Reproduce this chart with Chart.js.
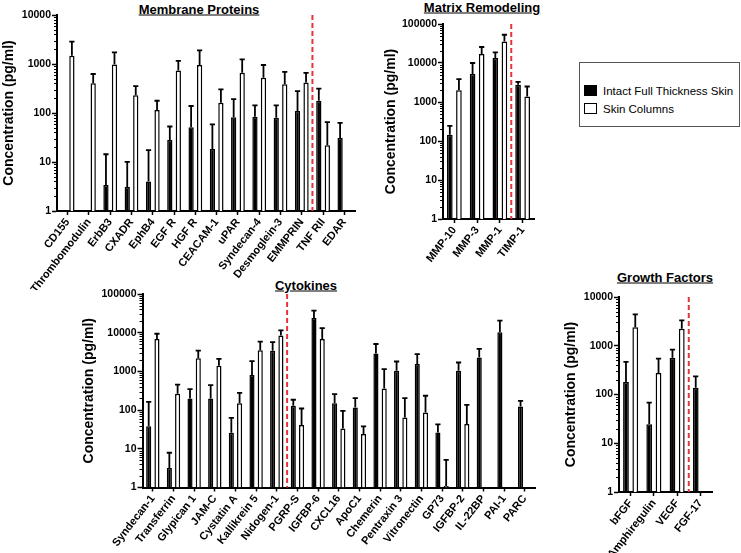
<!DOCTYPE html>
<html>
<head>
<meta charset="utf-8">
<script src="https://cdn.jsdelivr.net/npm/chart.js@4.4.1/dist/chart.umd.min.js"></script>
<style>
  body { margin: 0; background: #fff; width: 741px; height: 553px; overflow: hidden; position: relative; font-family: "Liberation Sans", Arial, sans-serif; }
  canvas { position: absolute; }
  .ttl { position: absolute; transform: translate(-50%, -50%); font-weight: bold; font-size: 13px; text-decoration: underline; white-space: nowrap; }
  #legend { position: absolute; left: 579px; top: 62px; width: 161px; height: 65px; border: 1px solid #555; box-sizing: border-box; font-size: 11.5px; }
  #legend .item { position: absolute; left: 4px; white-space: nowrap; }
  #legend .sw { display: inline-block; width: 13px; height: 11px; border: 1.5px solid #000; box-sizing: border-box; vertical-align: -1px; margin-right: 6px; }
</style>
</head>
<body>
<div class="ttl" style="left:199px; top:9px">Membrane Proteins</div>
<div class="ttl" style="left:482px; top:7px">Matrix Remodeling</div>
<div class="ttl" style="left:306px; top:285px">Cytokines</div>
<div class="ttl" style="left:665px; top:277px">Growth Factors</div>
<div id="legend">
  <div class="item" style="top:22px"><span class="sw" style="background:#000"></span>Intact Full Thickness Skin</div>
  <div class="item" style="top:40px"><span class="sw" style="background:#fff"></span>Skin Columns</div>
</div>

<canvas id="membrane" width="362" height="290" style="left:0px; top:0px"></canvas>
<canvas id="matrix" width="175" height="290" style="left:370px; top:0px"></canvas>
<canvas id="cytokines" width="480" height="273" style="left:60px; top:280px"></canvas>
<canvas id="growth" width="185" height="273" style="left:545px; top:280px"></canvas>

<script>
// Membrane Proteins
const membraneLabels = ['CD155', 'Thrombomodulin', 'ErbB3', 'CXADR', 'EphB4', 'EGF R', 'HGF R', 'CEACAM-1', 'uPAR', 'Syndecan-4', 'Desmoglein-3', 'EMMPRIN', 'TNF RII', 'EDAR'];
const membraneIntact = [null, null, 3.4, 3.1, 4.0, 28, 51, 18.5, 82, 84, 80, 110, 178, 31];
const membraneIntactSD = [null, null, 11, 7, 13.5, 25, 88, 40, 110, 59, 63, 170, 135, 32];
const membraneColumns = [1480, 405, 980, 230, 115, 735, 955, 162, 665, 525, 385, 418, 22, null];
const membraneColumnsSD = [1380, 220, 740, 125, 63, 425, 945, 141, 575, 430, 305, 242, 43, null];

// Matrix Remodeling
const matrixLabels = ['MMP-10', 'MMP-3', 'MMP-1', 'TIMP-1'];
const matrixIntact = [144, 5200, 13400, 2760];
const matrixIntactSD = [101, 4800, 5400, 540];
const matrixColumns = [1990, 17000, 35800, 1390];
const matrixColumnsSD = [1880, 8700, 17200, 1110];

// Cytokines
const cytoLabels = ['Syndecan-1', 'Transferrin', 'Glypican 1', 'JAM-C', 'Cystatin A', 'Kallikrein 5', 'Nidogen-1', 'PGRP-S', 'IGFBP-6', 'CXCL16', 'ApoC1', 'Chemerin', 'Pentraxin 3', 'Vitronectin', 'GP73', 'IGFBP-2', 'IL-22BP', 'PAI-1', 'PARC'];
const cytoIntact = [38.5, 3.2, 200, 200, 26, 804, 3400, 129, 24000, 151, 117, 2900, 1040, 1550, 26.5, 1040, 2300, 10200, 124];
const cytoIntactSD = [125, 4.7, 149, 243, 37, 1046, 2300, 56, 13000, 107, 87, 2200, 760, 1250, 16.5, 660, 1500, 10200, 50];
const cytoColumns = [6900, 265, 2200, 1400, 150, 3500, 8500, 41, 6900, 33.5, 24, 360, 64, 87, 1.1, 43.5, null, null, null];
const cytoColumnsSD = [2500, 190, 1250, 700, 130, 2400, 3000, 69, 6300, 62.5, 14, 790, 140, 148, 4.1, 93.5, null, null, null];

// Growth Factors
const growthLabels = ['bFGF', 'Amphiregulin', 'VEGF', 'FGF-17'];
const growthIntact = [181, 24.5, 570, 138];
const growthIntactSD = [284, 43.5, 260, 97];
const growthColumns = [2400, 275, 2230, null];
const growthColumnsSD = [2000, 270, 1100, null];

// y tick labels
const ticks4 = [1, 10, 100, 1000, 10000];
const ticks5 = [1, 10, 100, 1000, 10000, 100000];

const FONT = '"Liberation Sans", Arial, sans-serif';

// error bars, upward only
const errorBars = {
  id: 'errorBars',
  afterDatasetsDraw(chart) {
    const ctx = chart.ctx;
    const y = chart.scales.y;
    chart.data.datasets.forEach((ds, i) => {
      chart.getDatasetMeta(i).data.forEach((bar, j) => {
        const v = ds.data[j], e = ds.errors[j];
        if (v == null || e == null) return;
        const top = y.getPixelForValue(v + e);
        ctx.save();
        ctx.strokeStyle = '#000';
        ctx.lineWidth = 1.8;
        ctx.beginPath();
        ctx.moveTo(bar.x, bar.y);
        ctx.lineTo(bar.x, top);
        ctx.moveTo(bar.x - 2.6, top);
        ctx.lineTo(bar.x + 2.6, top);
        ctx.stroke();
        ctx.restore();
      });
    });
  }
};

// red dashed separator + minor log ticks
const splitLine = {
  id: 'splitLine',
  afterDraw(chart, args, opts) {
    const ctx = chart.ctx;
    const x = chart.scales.x, y = chart.scales.y;
    const area = chart.chartArea;
    ctx.save();
    // minor ticks
    ctx.strokeStyle = '#000';
    ctx.lineWidth = 1;
    ctx.beginPath();
    for (let d = y.min; d < y.max; d *= 10) {
      for (let m = 2; m < 10; m++) {
        const py = Math.round(y.getPixelForValue(d * m)) + 0.5;
        ctx.moveTo(y.right - 3, py);
        ctx.lineTo(y.right, py);
      }
    }
    ctx.stroke();
    if (opts.after != null) {
      const px = (x.getPixelForValue(opts.after) + x.getPixelForValue(opts.after + 1)) / 2;
      ctx.strokeStyle = '#e2343c';
      ctx.lineWidth = 2;
      ctx.setLineDash([5, 3]);
      ctx.beginPath();
      ctx.moveTo(px, area.top);
      ctx.lineTo(px, area.bottom);
      ctx.stroke();
    }
    ctx.restore();
  }
};

function makeChart(id, cfg) {
  const ctx = document.getElementById(id).getContext('2d');
  return new Chart(ctx, {
    type: 'bar',
    data: {
      labels: cfg.labels,
      datasets: [{
        label: 'Intact Full Thickness Skin',
        data: cfg.intact,
        errors: cfg.intactSD,
        backgroundColor: '#000',
        borderColor: '#000',
        borderWidth: 1.5
      }, {
        label: 'Skin Columns',
        data: cfg.columns,
        errors: cfg.columnsSD,
        backgroundColor: '#fff',
        borderColor: '#000',
        borderWidth: 1.5
      }]
    },
    plugins: [errorBars, splitLine],
    options: {
      responsive: false,
      animation: false,
      categoryPercentage: 0.8,
      barPercentage: 0.62,
      layout: { padding: { top: cfg.padTop, right: cfg.padRight, left: 0, bottom: 0 } },
      plugins: {
        legend: { display: false },
        tooltip: { enabled: false },
        splitLine: { after: cfg.splitAfter }
      },
      scales: {
        x: {
          afterFit: (s) => { s.height = cfg.xHeight; },
          border: { color: '#000', width: 2 },
          grid: { drawOnChartArea: false, offset: false, tickLength: 4, tickColor: '#000', tickWidth: 1.5 },
          ticks: {
            autoSkip: false, minRotation: 52, maxRotation: 52, padding: 1,
            color: '#000', font: { family: FONT, size: 11, weight: 'bold' }
          }
        },
        y: {
          type: 'logarithmic',
          min: cfg.ticks[0],
          max: cfg.ticks[cfg.ticks.length - 1],
          afterFit: (s) => { s.width = cfg.yWidth; },
          afterBuildTicks: (s) => { s.ticks = cfg.ticks.map(v => ({ value: v })); },
          border: { color: '#000', width: 2 },
          grid: { drawOnChartArea: false, tickLength: 5, tickColor: '#000', tickWidth: 1.5 },
          ticks: {
            padding: 1, color: '#000',
            font: { family: FONT, size: 10.5, weight: 'bold' },
            callback: (v) => String(v)
          },
          title: {
            display: true,
            text: 'Concentration (pg/ml)',
            color: '#000',
            font: { family: FONT, size: 14, weight: 'bold' },
            padding: { top: cfg.titlePad, bottom: 0 }
          }
        }
      }
    }
  });
}

makeChart('membrane', {
  labels: membraneLabels, intact: membraneIntact, intactSD: membraneIntactSD,
  columns: membraneColumns, columnsSD: membraneColumnsSD, ticks: ticks4, splitAfter: 11,
  padTop: 15, padRight: 7, yWidth: 57, xHeight: 79, titlePad: 1
});
makeChart('matrix', {
  labels: matrixLabels, intact: matrixIntact, intactSD: matrixIntactSD,
  columns: matrixColumns, columnsSD: matrixColumnsSD, ticks: ticks5, splitAfter: 2,
  padTop: 24, padRight: 11, yWidth: 73, xHeight: 71, titlePad: 12.5
});
makeChart('cytokines', {
  labels: cytoLabels, intact: cytoIntact, intactSD: cytoIntactSD,
  columns: cytoColumns, columnsSD: cytoColumnsSD, ticks: ticks5, splitAfter: 6,
  padTop: 14, padRight: 5, yWidth: 82.5, xHeight: 65.5, titlePad: 20.5
});
makeChart('growth', {
  labels: growthLabels, intact: growthIntact, intactSD: growthIntactSD,
  columns: growthColumns, columnsSD: growthColumnsSD, ticks: ticks4, splitAfter: 2,
  padTop: 17, padRight: 18, yWidth: 74, xHeight: 61, titlePad: 17.5
});
</script>
</body>
</html>
